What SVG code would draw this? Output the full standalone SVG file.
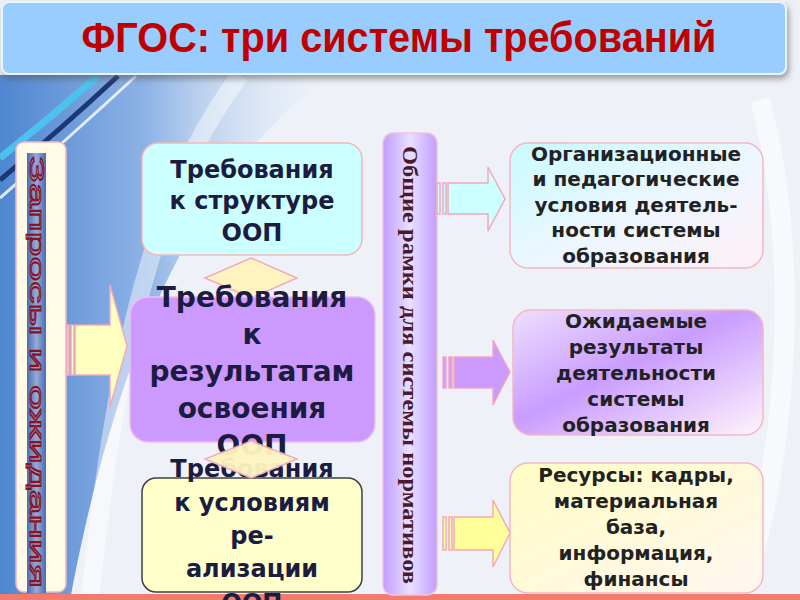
<svg xmlns="http://www.w3.org/2000/svg" width="800" height="600" viewBox="0 0 800 600">
<defs>
<linearGradient id="bgBlue" x1="0" y1="0" x2="1" y2="0">
<stop offset="0" stop-color="#4f86d0"/>
<stop offset="0.45" stop-color="#8fb4e6"/>
<stop offset="1" stop-color="#dde8f6" stop-opacity="0"/>
</linearGradient>
<linearGradient id="band" x1="0" y1="0" x2="1" y2="0">
<stop offset="0" stop-color="#c39cff"/>
<stop offset="0.5" stop-color="#e8e0ff"/>
<stop offset="1" stop-color="#c39cff"/>
</linearGradient>
<linearGradient id="blueTex" x1="0" y1="0" x2="1" y2="0">
<stop offset="0" stop-color="#4a6db0"/>
<stop offset="0.5" stop-color="#94abd9"/>
<stop offset="1" stop-color="#4a6db0"/>
</linearGradient>
<linearGradient id="g1" x1="0" y1="0" x2="1" y2="1">
<stop offset="0" stop-color="#c8fbff"/>
<stop offset="0.55" stop-color="#eef6ff"/>
<stop offset="1" stop-color="#fff0f6"/>
</linearGradient>
<linearGradient id="g2" x1="0" y1="0" x2="1" y2="1">
<stop offset="0" stop-color="#efe0ff"/>
<stop offset="0.45" stop-color="#c99cff"/>
<stop offset="1" stop-color="#fff4fb"/>
</linearGradient>
<linearGradient id="g3" x1="0" y1="0" x2="1" y2="1">
<stop offset="0" stop-color="#fefec4"/>
<stop offset="1" stop-color="#fff6f0"/>
</linearGradient>
<filter id="shadow" x="-5%" y="-20%" width="110%" height="150%">
<feDropShadow dx="2" dy="4" stdDeviation="3" flood-color="#555" flood-opacity="0.55"/>
</filter>
<style>
.ctr{font-family:"DejaVu Sans","Noto Sans",sans-serif;font-weight:bold;fill:#1c1c40;text-anchor:middle}
.rt{font-family:"DejaVu Sans","Noto Sans",sans-serif;font-weight:bold;fill:#222;text-anchor:middle;font-size:20px}
.pinkS{stroke:#f4b4c4;stroke-width:1.5}
.arrow{stroke:#f4a8bc;stroke-width:1.5}
</style>
</defs>

<!-- background -->
<rect x="0" y="0" width="800" height="600" fill="#eef2f8"/>
<path d="M0,75 L330,75 C230,150 130,280 70,600 L0,600 Z" fill="url(#bgBlue)"/>
<path d="M240,75 C170,170 120,300 90,600" fill="none" stroke="#ffffff" stroke-width="18" opacity="0.45"/>
<path d="M98,76 Q50,118 0,158" fill="none" stroke="#4ec2ee" stroke-width="7"/>
<path d="M118,76 Q62,128 0,180" fill="none" stroke="#1d3773" stroke-width="5"/>
<path d="M136,76 Q72,135 0,198" fill="none" stroke="#ffffff" stroke-width="3" opacity="0.8"/>
<path d="M760,100 C800,250 790,450 740,600" fill="none" stroke="#ffffff" stroke-width="20" opacity="0.5"/>
<rect x="0" y="594" width="800" height="6" fill="#f27b6e"/>

<!-- title -->
<g id="title">
<rect x="2" y="2" width="784" height="72" rx="7" fill="#99ccff" stroke="#eaf4ff" stroke-width="2" filter="url(#shadow)"/>
<text x="399" y="52" font-family="Liberation Sans, Arial, sans-serif" font-weight="bold" font-size="42" fill="#c00000" text-anchor="middle" textLength="635" lengthAdjust="spacingAndGlyphs">ФГОС: три системы требований</text>
</g>

<!-- left column -->
<g id="requests">
<rect x="16" y="142" width="50" height="450" rx="8" fill="#fffbe6" class="pinkS"/>
<rect x="27" y="153" width="19" height="440" fill="url(#blueTex)"/>
<text transform="translate(30,372) rotate(90)" font-family="Liberation Sans, Arial, sans-serif" font-size="20" fill="none" stroke="#8b1020" stroke-width="1" text-anchor="middle" textLength="432" lengthAdjust="spacingAndGlyphs">Запросы и ожидания</text>
</g>

<!-- vertical band -->
<g id="frame">
<rect x="383" y="133" width="54" height="462" rx="10" fill="url(#band)" stroke="#f0c4d8" stroke-width="1.5"/>
<text transform="translate(403,365) rotate(90)" font-family="Liberation Serif, Times New Roman, serif" font-weight="bold" font-size="21" fill="#4a1a2c" text-anchor="middle" textLength="438" lengthAdjust="spacingAndGlyphs">Общие рамки для системы нормативов</text>
</g>

<!-- top center -->
<g id="req-structure">
<rect x="142" y="143" width="220" height="112" rx="16" fill="#ccffff" stroke="#f4b8b8" stroke-width="1.5"/>
<text class="ctr" font-size="24"><tspan x="252" y="178">Требования</tspan><tspan x="252" y="209">к структуре</tspan><tspan x="252" y="241">ООП</tspan></text>
</g>

<!-- upper double arrow (behind middle box) -->
<g id="connectors-upper">
<polygon points="251,258 297,278 251,298 205,278" fill="#fff4c0" class="arrow"/>
</g>

<!-- middle center -->
<g id="req-results">
<rect x="130" y="297" width="245" height="145" rx="18" fill="#cc99ff" stroke="#f0c0e8" stroke-width="1.5"/>
<text class="ctr" font-size="28"><tspan x="252" y="307">Требования</tspan><tspan x="252" y="344">к</tspan><tspan x="252" y="381">результатам</tspan><tspan x="252" y="418">освоения</tspan><tspan x="252" y="455">ООП</tspan></text>
</g>

<!-- bottom center -->
<g id="req-conditions">
<rect x="142" y="478" width="220" height="114" rx="14" fill="#ffffcc" stroke="#404040" stroke-width="1.5"/>
<text class="ctr" font-size="24"><tspan x="252" y="477">Требования</tspan><tspan x="252" y="511">к условиям</tspan><tspan x="252" y="544">ре-</tspan><tspan x="252" y="577">ализации</tspan><tspan x="252" y="611">ООП</tspan></text>
</g>

<!-- connectors -->
<g id="connectors">
<polygon points="251,441 297,459 251,478 205,459" fill="#fff4c0" class="arrow" opacity="0.95"/>
<!-- left arrow -->
<rect x="67" y="325" width="2" height="50" fill="#ffffc0" class="arrow"/>
<rect x="71" y="325" width="3" height="50" fill="#ffffc0" class="arrow"/>
<polygon points="75,325 110,325 110,285 127,346 110,407 110,375 75,375" fill="#ffffc0" class="arrow"/>
<!-- right arrow 1 -->
<rect x="437" y="183" width="3" height="31" fill="#ccffff" class="arrow"/>
<rect x="443" y="183" width="3" height="31" fill="#ccffff" class="arrow"/>
<polygon points="448,183 488,183 488,167 505,199 488,231 488,214 448,214" fill="#ccffff" class="arrow"/>
<!-- right arrow 2 -->
<rect x="443" y="357" width="3" height="31" fill="#cc99ff" class="arrow"/>
<rect x="449" y="357" width="3" height="31" fill="#cc99ff" class="arrow"/>
<polygon points="454,357 493,357 493,340 510,372 493,405 493,388 454,388" fill="#cc99ff" class="arrow"/>
<!-- right arrow 3 -->
<rect x="443" y="517" width="3" height="33" fill="#ffff99" class="arrow"/>
<rect x="449" y="517" width="3" height="33" fill="#ffff99" class="arrow"/>
<polygon points="454,517 493,517 493,500 510,533 493,567 493,550 454,550" fill="#ffff99" class="arrow"/>
</g>

<!-- right boxes -->
<g id="org-conditions">
<rect x="510" y="143" width="253" height="125" rx="18" fill="url(#g1)" stroke="#f4b8c4" stroke-width="1.5"/>
<text class="rt"><tspan x="636" y="161">Организационные</tspan><tspan x="636" y="186">и педагогические</tspan><tspan x="636" y="212">условия деятель-</tspan><tspan x="636" y="237">ности системы</tspan><tspan x="636" y="263">образования</tspan></text>
</g>
<g id="expected-results">
<rect x="513" y="310" width="250" height="125" rx="18" fill="url(#g2)" stroke="#f4b8c4" stroke-width="1.5"/>
<text class="rt"><tspan x="636" y="328">Ожидаемые</tspan><tspan x="636" y="354">результаты</tspan><tspan x="636" y="380">деятельности</tspan><tspan x="636" y="406">системы</tspan><tspan x="636" y="432">образования</tspan></text>
</g>
<g id="resources">
<rect x="510" y="463" width="253" height="130" rx="18" fill="url(#g3)" stroke="#f4b8c4" stroke-width="1.5"/>
<text class="rt"><tspan x="636" y="482">Ресурсы: кадры,</tspan><tspan x="636" y="508">материальная</tspan><tspan x="636" y="534">база,</tspan><tspan x="636" y="560">информация,</tspan><tspan x="636" y="586">финансы</tspan></text>
</g>
</svg>
